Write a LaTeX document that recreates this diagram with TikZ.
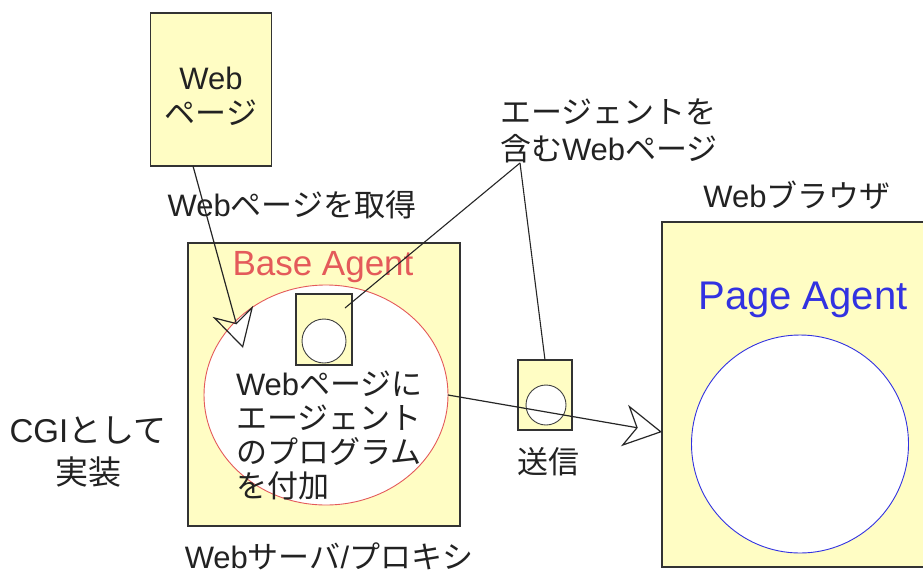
\documentclass[tikz,border=0pt]{standalone}
\usepackage{fontspec}
\setmainfont{Liberation Sans}
\newfontfamily\jp{Noto Sans CJK JP}
\usetikzlibrary{positioning,shapes.geometric,arrows.meta}
\definecolor{boxyellow}{RGB}{255,253,196}
\definecolor{agentred}{RGB}{228,90,90}
\definecolor{agentblue}{RGB}{50,50,225}
\definecolor{inkgray}{RGB}{34,34,34}

\begin{document}
\begin{tikzpicture}
    [x=1pt, y=-1pt, font=\fontsize{31}{35}\selectfont, text=inkgray,
    every node/.style={inner sep=0pt, outer sep=0pt},
    yellowbox/.style={rectangle, fill=boxyellow, draw=black!80, line width=1.4pt},
    innercircle/.style={circle, fill=white, draw=black!75, line width=0.9pt},
    bigcircle/.style={ellipse, fill=white, line width=0.9pt},
    openarrow/.style={draw=black!85, line width=1.2pt,
        -{Stealth[open, length=38pt, width=42pt, inset=12pt, line width=1.2pt]}},
    connector/.style={draw=black!85, line width=1.1pt},
    caption/.style={align=center},
    leftcaption/.style={align=left, anchor=west}]
    \clip (0,0) rectangle (923,579);
    \fill[white] (0,0) rectangle (923,579);
    % web page source
    \node[yellowbox, minimum width=121pt, minimum height=153pt] (page) at (211,89.5) {};
    \node[caption] (pagetext) at (211,96) {Web\\{\jp ページ}};
    \node[caption] (fetch) at (292,205) {Web{\jp ページを取得}};
    % server / proxy
    \node[yellowbox, minimum width=272pt, minimum height=283pt] (server) at (324,384.5) {};
    \node[caption, text=agentred, font=\fontsize{35}{40}\selectfont] (baseagent) at (323,267) {Base Agent};
    \node[bigcircle, draw=agentred, minimum width=244pt, minimum height=220pt] (basecircle) at (326,395) {};
    \node[yellowbox, minimum width=56pt, minimum height=71pt] (agentbox) at (324,329.5) {};
    \node[innercircle, minimum size=44pt] (agentdot) at (324,341) {};
    \node[leftcaption, font=\fontsize{31}{34}\selectfont] (attach) at (236,435)
        {Web{\jp ページに}\\{\jp エージェント}\\{\jp のプログラム}\\{\jp を付加}};
    \node[caption] (serverlabel) at (329,556) {Web{\jp サーバ}/{\jp プロキシ}};
    \node[caption, font=\fontsize{33}{42}\selectfont] (cgi) at (88,452) {CGI{\jp として}\\{\jp 実装}};
    % page carrying the agent
    \node[leftcaption, font=\fontsize{31}{37}\selectfont] (withagent) at (500,131)
        {{\jp エージェントを}\\{\jp 含む}Web{\jp ページ}};
    \coordinate (fork) at (520,163);
    \node[yellowbox, minimum width=54pt, minimum height=70pt] (sendbox) at (545,395) {};
    \node[innercircle, minimum size=40pt] (senddot) at (546,405) {};
    \node[caption] (send) at (548,462) {{\jp 送信}};
    % browser
    \node[yellowbox, minimum width=338pt, minimum height=345pt] (browser) at (831,394.5) {};
    \node[caption] (browserlabel) at (797,195) {Web{\jp ブラウザ}};
    \node[caption, text=agentblue, font=\fontsize{40}{44}\selectfont] (pageagent) at (803,300) {Page Agent};
    \node[bigcircle, draw=agentblue, minimum width=217pt, minimum height=218pt] (pagecircle) at (800,444) {};
    % connectors
    \coordinate (fetchtip) at (243,348);
    \draw[openarrow] ([xshift=-18pt]page.south) -- (fetchtip);
    \draw[connector] ([shift={(-7pt,-14pt)}]agentbox.north east) -- (fork);
    \draw[connector] (fork) -- (sendbox.north);
    \draw[openarrow] (basecircle.east) -- ([yshift=-37.5pt]browser.west);
\end{tikzpicture}
\end{document}
